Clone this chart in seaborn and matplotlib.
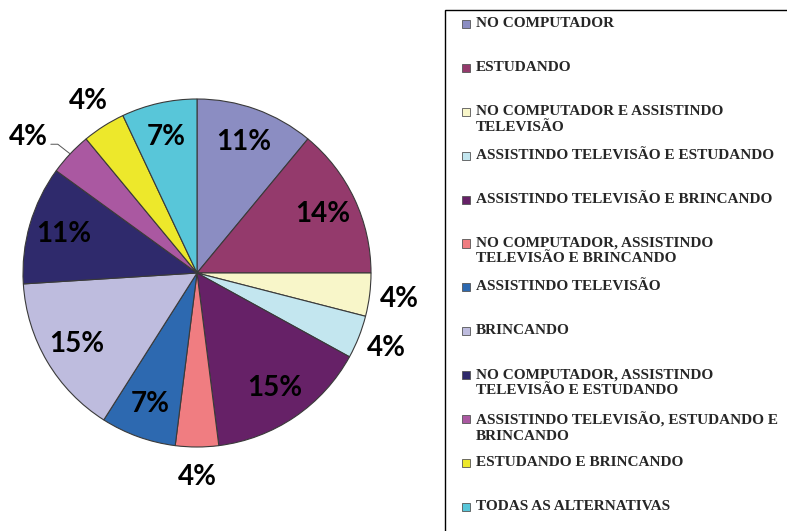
import numpy as np
import seaborn as sns
import matplotlib.pyplot as plt
from matplotlib.patches import Rectangle

categories = [
    "NO COMPUTADOR",
    "ESTUDANDO",
    "NO COMPUTADOR E ASSISTINDO\nTELEVISÃO",
    "ASSISTINDO TELEVISÃO E ESTUDANDO",
    "ASSISTINDO TELEVISÃO E BRINCANDO",
    "NO COMPUTADOR, ASSISTINDO\nTELEVISÃO E BRINCANDO",
    "ASSISTINDO TELEVISÃO",
    "BRINCANDO",
    "NO COMPUTADOR, ASSISTINDO\nTELEVISÃO E ESTUDANDO",
    "ASSISTINDO TELEVISÃO, ESTUDANDO E\nBRINCANDO",
    "ESTUDANDO E BRINCANDO",
    "TODAS AS ALTERNATIVAS",
]
percentages = [11, 14, 4, 4, 15, 4, 7, 15, 11, 4, 4, 7]
slice_colors = [
    "#8B8DC2", "#943A6C", "#F8F6C9", "#C3E6EF", "#662167", "#F07D81",
    "#2D69B0", "#BEBCDE", "#2F2A6C", "#AA58A1", "#EDE82B", "#58C6D9",
]

sns.set_theme(style="white")
palette = sns.color_palette(slice_colors)

W, H = 787, 531
fig = plt.figure(figsize=(W / 100, H / 100), dpi=100)

# pie centred at (197, 273) px, radius 174 px
cx, cy, r = 197, 273, 174
ax = fig.add_axes([(cx - r) / W, (H - cy - r) / H, 2 * r / W, 2 * r / H])
wedges, _ = ax.pie(percentages, colors=palette, startangle=90, counterclock=False,
                   wedgeprops=dict(edgecolor="#3a3a3a", linewidth=0.8))
ax.set_xlim(-1, 1)
ax.set_ylim(-1, 1)
ax.set_aspect("equal")

pct_font = dict(ha="center", va="center", fontsize=20, fontweight="bold",
                family="Lato", color="black")

for i, (w, v) in enumerate(zip(wedges, percentages)):
    ang = np.deg2rad((w.theta1 + w.theta2) / 2)
    dx, dy = np.cos(ang), np.sin(ang)
    if v >= 7:
        ax.text(0.8 * dx, 0.8 * dy, f"{v}%", **pct_font)
    elif i == 9:
        # label pulled out with a short leader line
        ax.text(-0.97, 0.78, f"{v}%", **pct_font)
        ax.plot([-0.84, -0.80, dx], [0.74, 0.74, dy], color="#555555", lw=0.7)
    else:
        ax.text(1.17 * dx, 1.17 * dy, f"{v}%", **pct_font)

# legend box
fig.patches.append(Rectangle((445 / W, -0.01), 1.0, 1 - 10 / H + 0.01,
                             transform=fig.transFigure, fill=False,
                             edgecolor="black", linewidth=1.0))

y0, step = 25, 43.9
for i, (lab, col) in enumerate(zip(categories, palette)):
    y = y0 + i * step
    fig.patches.append(Rectangle((462 / W, (H - y - 3) / H), 8 / W, 8 / H,
                                 transform=fig.transFigure, facecolor=col,
                                 edgecolor="#555555", linewidth=0.6))
    fig.text(476 / W, (H - y + 8) / H, lab, ha="left", va="top",
             fontsize=11, fontweight="bold", family="Liberation Serif",
             linespacing=1.3)

fig.savefig("out.png", dpi=100)
